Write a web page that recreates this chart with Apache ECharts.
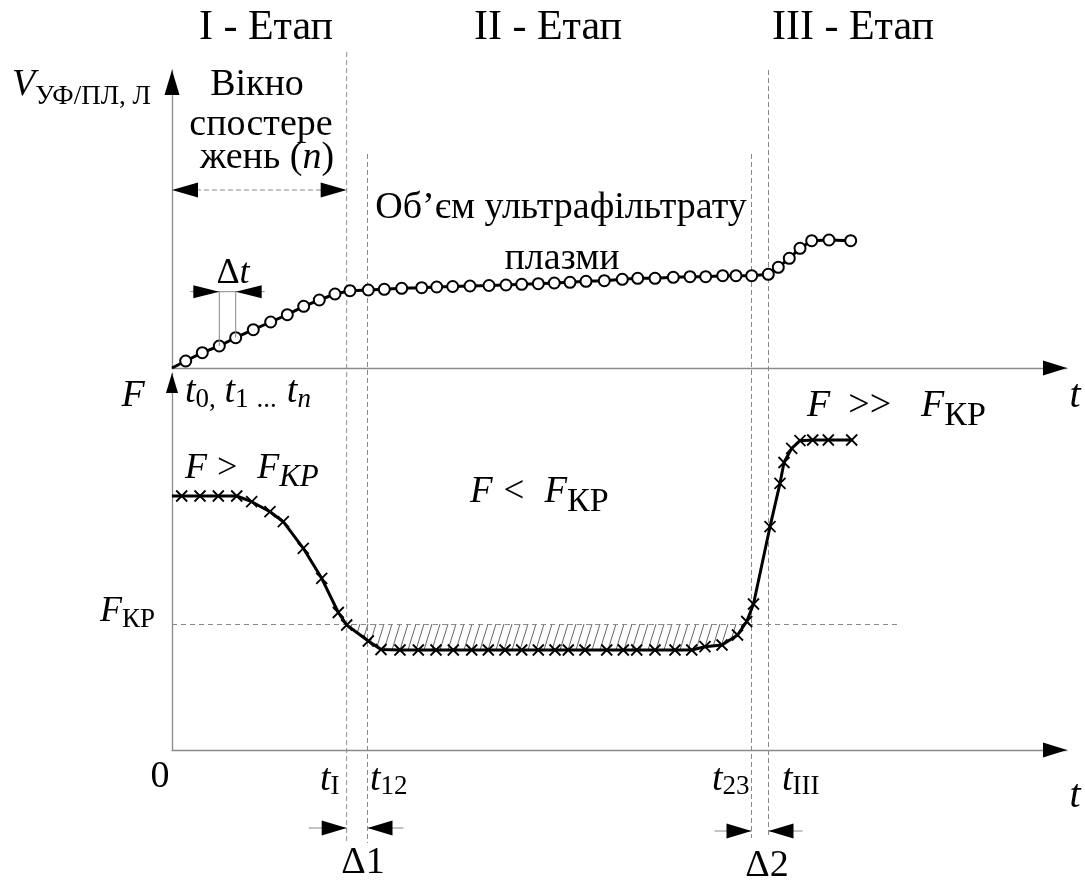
<!DOCTYPE html>
<html><head><meta charset="utf-8">
<script src="https://cdn.jsdelivr.net/npm/echarts/dist/echarts.min.js"></script>
<style>html,body{margin:0;padding:0;background:#fff}#c{width:1085px;height:882px}</style>
</head><body><div id="c"></div>
<script>
// ---- data (time t in arbitrary units) ----
const volumeT = [0,1.37,3.03,4.73,6.37,8.13,9.87,11.53,13.17,14.73,16.3,17.8,19.63,21.23,22.97,24.97,26.47,28.07,29.8,31.7,33.4,34.97,36.63,38.23,39.8,41.4,43.23,45.03,46.57,48.3,50.13,51.8,53.37,55.07,56.4,57.97,59.63,60.63,61.73,62.8,63.97,65.7,67.87];
const volumeV = [0,0.7,1.53,2.2,3.03,3.83,4.6,5.33,6.17,6.8,7.4,7.73,7.8,7.87,7.97,8.03,8.1,8.15,8.2,8.25,8.3,8.37,8.43,8.5,8.57,8.67,8.73,8.87,8.97,8.97,9.07,9.13,9.13,9.23,9.23,9.23,9.37,10.07,10.97,11.97,12.73,12.8,12.73];
const forceT = [0,0.97,2.8,4.63,6.47,7.97,9.8,11.13,13.13,14.97,16.63,17.47,19.63,20.9,22.8,24.63,26.4,28.13,29.97,31.63,33.3,34.97,36.63,38.3,39.63,41.3,43.47,45.13,46.47,48.3,50.3,51.97,53.3,55.0,56.55,57.47,58.15,59.8,60.8,61.2,61.97,62.8,64.07,65.63,67.97];
const forceF = [25.4,25.4,25.4,25.4,25.4,24.83,23.83,22.83,20.17,17.17,13.75,12.5,10.9,10.05,10,10,10,10,10,10,10,10,10,10,10,10,10,10,10,10,10,10,10.33,10.5,11.5,12.85,14.6,22.33,26.67,28.75,30.17,30.93,31,31,31];
const F_KR = 12.6;
const F_KR_END = 72.5;
const stageTimes = [17.47, 19.55, 57.95, 59.65];   // t_I, t_12, t_23, t_III
const stageLabels = ['I - Етап', 'II - Етап', 'III - Етап'];
const X_MAX = 89.5, V_MAX = 29.8, F_MAX = 37.7;

// ---- helpers ----
const FONT = '"Liberation Serif", "Times New Roman", serif';
const mctx = document.createElement('canvas').getContext('2d');
function fnt(size, italic){ return (italic ? 'italic ' : '') + size + 'px ' + FONT; }
// parts: [text, size, italic, dy, gapAfter]
function run(x, y, parts, align){
  const widths = parts.map(p => { mctx.font = fnt(p[1], p[2]); return mctx.measureText(p[0]).width + (p[4] || 0); });
  const total = widths.reduce((a,b)=>a+b, 0);
  let cx = align === 'center' ? x - total/2 : x;
  return parts.map((p, i) => {
    const el = {type:'text', x: cx, y: y + (p[3] || 0), z: 100, silent: true,
      style:{text: p[0], font: fnt(p[1], p[2]), fill:'#000', textAlign:'left', textVerticalAlign:'middle', align:'left', verticalAlign:'middle'}};
    cx += widths[i];
    return el;
  });
}
function headH(tip, dir, len, half){ // horizontal arrowhead, dir +1 points right
  return {type:'polygon', shape:{points:[[tip[0],tip[1]],[tip[0]-dir*len,tip[1]-half],[tip[0]-dir*len,tip[1]+half]]}, style:{fill:'#000'}};
}
function headV(tip, len, half){ // pointing up
  return {type:'polygon', shape:{points:[[tip[0],tip[1]],[tip[0]-half,tip[1]+len],[tip[0]+half,tip[1]+len]]}, style:{fill:'#000'}};
}
function seg(a, b, stroke, w, dash){
  return {type:'line', shape:{x1:a[0],y1:a[1],x2:b[0],y2:b[1]}, style:{stroke: stroke, lineWidth: w, lineDash: dash || null}};
}
function crossing(ts, vs, level, from, dir){
  for (let i = from; i < ts.length - 1; i++){
    const a = vs[i] - level, b = vs[i+1] - level;
    if ((dir < 0 && a >= 0 && b < 0) || (dir > 0 && a < 0 && b >= 0)){
      return {i: i, t: ts[i] + (ts[i+1]-ts[i]) * (level - vs[i]) / (vs[i+1] - vs[i])};
    }
  }
  return null;
}

// hatch pattern
const pat = document.createElement('canvas'); pat.width = 8; pat.height = 26;
const pc = pat.getContext('2d'); pc.strokeStyle = '#666'; pc.lineWidth = 1;
[-8, 0, 8].forEach(s => { pc.beginPath(); pc.moveTo(s - 1, 29.25); pc.lineTo(s + 9, -3.25); pc.stroke(); });

const volData = volumeT.map((t,i) => i === 0 ? {value:[t, volumeV[i]], symbol:'none'} : [t, volumeV[i]]);
const forceData = forceT.map((t,i) => i === 0 ? {value:[t, forceF[i]], symbol:'none'} : [t, forceF[i]]);

const axisCommon = {type:'value', axisTick:{show:false}, axisLabel:{show:false}, splitLine:{show:false},
  axisLine:{show:true, onZero:false, lineStyle:{color:'#8a8a8a', width:1.3}}};

// ---- text labels ----
const labels = [];
const stageX = [266, 548, 853];
stageLabels.forEach((s, i) => labels.push(...run(stageX[i], 28, [[s, 42, false, 0]], 'center')));
labels.push(...run(12, 85, [['V', 38, true, 0], ['УФ/ПЛ, Л', 27, false, 12]], 'left'));
labels.push(...run(257, 85, [['Вікно', 38, false, 0]], 'center'));
labels.push(...run(261, 125, [['спостере', 38, false, 0]], 'center'));
labels.push(...run(267, 158, [['жень (', 38, false, 0], ['n', 38, true, 0], [')', 38, false, 0]], 'center'));
labels.push(...run(561, 208, [['Об’єм ультрафільтрату', 38, false, 0]], 'center'));
labels.push(...run(562, 259, [['плазми', 38, false, 0]], 'center'));
labels.push(...run(233, 274, [['Δ', 36, false, 0], ['t', 36, true, 0]], 'center'));
labels.push(...run(133, 396, [['F', 38, true, 0]], 'center'));
labels.push(...run(185, 392, [['t', 38, true, 0], ['0, ', 27, false, 8, 2], ['t', 38, true, 0], ['1', 27, false, 8, 8], ['...', 27, false, 8, 10], ['t', 38, true, 0], ['n', 27, true, 8]], 'left'));
labels.push(...run(185, 469, [['F', 36, true, 0, 10], ['>', 36, false, 0, 20], ['F', 36, true, 0], ['КР', 31, true, 9]], 'left'));
labels.push(...run(470, 492, [['F', 37, true, 0, 11], ['<', 37, false, 0, 20], ['F', 37, true, 0], ['КР', 34, false, 10]], 'left'));
labels.push(...run(807, 406, [['F', 38, true, 0, 18], ['>>', 38, false, 0, 30], ['F', 38, true, 0], ['КР', 34, false, 10]], 'left'));
labels.push(...run(100, 612, [['F', 36, true, 0], ['КР', 27, false, 8]], 'left'));
labels.push(...run(160, 777, [['0', 38, false, 0]], 'center'));
labels.push(...run(320, 780, [['t', 38, true, 0], ['I', 27, false, 7]], 'left'));
labels.push(...run(370, 780, [['t', 38, true, 0], ['12', 27, false, 7]], 'left'));
labels.push(...run(712, 780, [['t', 38, true, 0], ['23', 27, false, 7]], 'left'));
labels.push(...run(782, 780, [['t', 38, true, 0], ['III', 27, false, 7]], 'left'));
labels.push(...run(1075, 396, [['t', 40, true, 0]], 'center'));
labels.push(...run(1075, 796, [['t', 40, true, 0]], 'center'));
labels.push(...run(363, 863, [['Δ1', 38, false, 0]], 'center'));
labels.push(...run(767, 866, [['Δ2', 38, false, 0]], 'center'));

const chart = echarts.init(document.getElementById('c'), null, {renderer:'canvas'});
chart.setOption({
  animation: false,
  backgroundColor: '#fff',
  grid: [
    {left:172, top:70, width:895, height:298, outerBoundsMode:'none'},
    {left:172, top:373, width:895, height:377, outerBoundsMode:'none'},
    {left:172, top:0, width:895, height:882, outerBoundsMode:'none'}
  ],
  xAxis: [
    Object.assign({}, axisCommon, {gridIndex:0, min:0, max:X_MAX}),
    Object.assign({}, axisCommon, {gridIndex:1, min:0, max:X_MAX}),
    {type:'value', gridIndex:2, min:0, max:X_MAX, show:false}
  ],
  yAxis: [
    Object.assign({}, axisCommon, {gridIndex:0, min:0, max:V_MAX}),
    Object.assign({}, axisCommon, {gridIndex:1, min:0, max:F_MAX}),
    {type:'value', gridIndex:2, min:0, max:882, inverse:true, show:false}
  ],
  graphic: labels,
  series: [
    { // hatch area below F_KR
      type:'custom', xAxisIndex:1, yAxisIndex:1, clip:false, silent:true, z:1, data:[[0,0]],
      renderItem: function(params, api){
        const c1 = crossing(forceT, forceF, F_KR, 0, -1);
        const c2 = crossing(forceT, forceF, F_KR, c1.i + 1, 1);
        const pts = [api.coord([c1.t, F_KR])];
        for (let i = c1.i + 1; i <= c2.i; i++) pts.push(api.coord([forceT[i], forceF[i]]));
        pts.push(api.coord([c2.t, F_KR]));
        return {type:'polygon', shape:{points: pts}, style:{fill:{image: pat, repeat:'repeat'}, stroke:null}};
      }
    },
    {
      type:'line', xAxisIndex:0, yAxisIndex:0, data: volData, z:5,
      symbol:'circle', symbolSize:11, showAllSymbol:true,
      lineStyle:{color:'#000', width:3},
      itemStyle:{color:'#fff', borderColor:'#000', borderWidth:2}
    },
    {
      type:'line', xAxisIndex:1, yAxisIndex:1, data: forceData, z:5,
      symbol:'path://M0 0L10 10M10 0L0 10', symbolSize:11, showAllSymbol:true,
      lineStyle:{color:'#000', width:3},
      itemStyle:{color:'#000', borderColor:'#000', borderWidth:1.8},
      markLine:{silent:true, symbol:'none', label:{show:false},
        lineStyle:{color:'#8a8a8a', type:[5,4], width:1},
        data:[[{coord:[0, F_KR]}, {coord:[F_KR_END, F_KR]}]]}
    },
    { // axis arrowheads upper + delta t marker
      type:'custom', xAxisIndex:0, yAxisIndex:0, clip:false, silent:true, z:6, data:[[0,0]],
      renderItem: function(params, api){
        const ch = [];
        ch.push(headH(api.coord([X_MAX, 0]), 1, 24, 7.5));
        ch.push(headV(api.coord([0, V_MAX]), 25, 7.5));
        const vLev = 7.63;
        const a = volumeT[3], b = volumeT[4];
        ch.push(seg(api.coord([a, volumeV[3]]), api.coord([a, vLev]), '#888', 1));
        ch.push(seg(api.coord([b, volumeV[4]]), api.coord([b, vLev]), '#888', 1));
        ch.push(seg(api.coord([a - 2.9, vLev]), api.coord([b + 2.9, vLev]), '#888', 1));
        ch.push(headH(api.coord([a, vLev]), 1, 26, 6.5));
        ch.push(headH(api.coord([b, vLev]), -1, 26, 6.5));
        return {type:'group', children: ch};
      }
    },
    { // axis arrowheads lower
      type:'custom', xAxisIndex:1, yAxisIndex:1, clip:false, silent:true, z:6, data:[[0,0]],
      renderItem: function(params, api){
        return {type:'group', children:[
          headH(api.coord([X_MAX, 0]), 1, 24, 7.5),
          headV(api.coord([0, F_MAX]), 20, 6)
        ]};
      }
    },
    { // stage boundaries and interval arrows (overlay, y in page units)
      type:'custom', xAxisIndex:2, yAxisIndex:2, clip:false, silent:true, z:4, data:[[0,0]],
      renderItem: function(params, api){
        const ch = [];
        const ext = [[52, 843], [154, 843], [154, 838], [70, 838]];
        stageTimes.forEach((t, i) => ch.push(seg(api.coord([t, ext[i][0]]), api.coord([t, ext[i][1]]), '#8a8a8a', 1, [5, 3])));
        // observation window arrow
        const w0 = api.coord([0, 190]), w1 = api.coord([stageTimes[0], 190]);
        ch.push(seg([w0[0] + 24, 190], [w1[0] - 24, 190], '#8a8a8a', 1.2, [5, 3]));
        ch.push(headH(w0, -1, 26, 7.5));
        ch.push(headH(w1, 1, 26, 7.5));
        // delta 1
        const d1a = api.coord([stageTimes[0], 828]), d1b = api.coord([stageTimes[1], 828]);
        ch.push(seg([d1a[0] - 38, 828], d1a, '#888', 1));
        ch.push(seg([d1b[0] + 36, 828], d1b, '#888', 1));
        ch.push(headH(d1a, 1, 25, 7.5));
        ch.push(headH(d1b, -1, 25, 7.5));
        // delta 2
        const d2a = api.coord([stageTimes[2], 831]), d2b = api.coord([stageTimes[3], 831]);
        ch.push(seg([d2a[0] - 37, 831], d2a, '#888', 1));
        ch.push(seg([d2b[0] + 34, 831], d2b, '#888', 1));
        ch.push(headH(d2a, 1, 25, 7.5));
        ch.push(headH(d2b, -1, 25, 7.5));
        return {type:'group', children: ch};
      }
    }
  ]
});
</script>
</body></html>
